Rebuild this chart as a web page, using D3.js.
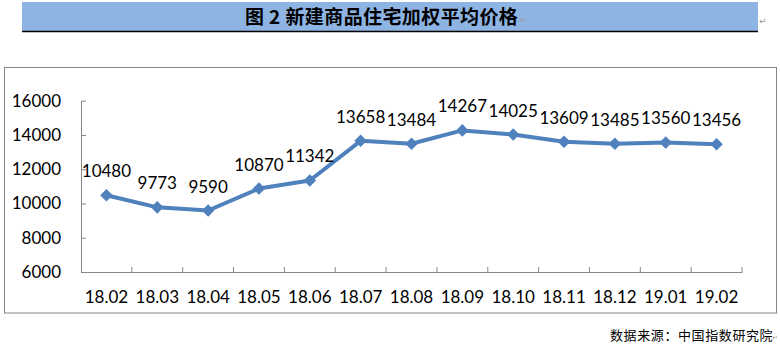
<!DOCTYPE html>
<html>
<head>
<meta charset="utf-8">
<script src="https://cdn.jsdelivr.net/npm/d3@7"></script>
<style>
  body { margin: 0; background: #fff; }
  svg { display: block; }
  .tick-lbl, .val-lbl { font-family: Lato, "Open Sans", sans-serif; font-size: 17px; fill: #000; }
</style>
</head>
<body>
<div id="chart"></div>
<script>
// Data
const months = ["18.02", "18.03", "18.04", "18.05", "18.06", "18.07", "18.08",
                "18.09", "18.10", "18.11", "18.12", "19.01", "19.02"];
const prices = [10480, 9773, 9590, 10870, 11342, 13658, 13484,
                14267, 14025, 13609, 13485, 13560, 13456];
const yTicks = [6000, 8000, 10000, 12000, 14000, 16000];

const titleText = "图 2  新建商品住宅加权平均价格";
const sourceText = "数据来源：中国指数研究院";

const W = 780, H = 349;
const plot = {left: 81, right: 742, top: 100.7, bottom: 272};

const svg = d3.select("#chart")
    .append("svg")
    .attr("width", W)
    .attr("height", H);

// Title banner
svg.append("rect")
    .attr("x", 22).attr("y", 2)
    .attr("width", 736).attr("height", 29)
    .attr("fill", "#8eb4e3");
svg.append("line")
    .attr("x1", 22).attr("x2", 758)
    .attr("y1", 31.5).attr("y2", 31.5)
    .attr("stroke", "#000").attr("stroke-width", 1.5);
svg.append("text")
    .attr("x", 245).attr("y", 24)
    .attr("font-family", "'Noto Sans CJK SC', sans-serif")
    .attr("font-weight", "bold")
    .attr("font-size", 19)
    .attr("letter-spacing", 0.4)
    .text(titleText);
svg.append("text")
    .attr("x", 519).attr("y", 23)
    .attr("font-family", "'DejaVu Sans', sans-serif")
    .attr("font-size", 9).attr("fill", "#999")
    .text("↵");
svg.append("text")
    .attr("x", 759).attr("y", 24)
    .attr("font-family", "'DejaVu Sans', sans-serif")
    .attr("font-size", 9).attr("fill", "#999")
    .text("↵");

// Chart frame
svg.append("rect")
    .attr("x", 4.5).attr("y", 67.5)
    .attr("width", 772).attr("height", 245.5)
    .attr("fill", "none")
    .attr("stroke", "#868686");

// Scales
const x = d3.scaleBand()
    .domain(months)
    .range([plot.left, plot.right]);

const y = d3.scaleLinear()
    .domain([6000, 16000])
    .range([plot.bottom, plot.top]);

// Y axis (ticks point inward)
const yAxis = svg.append("g")
    .attr("transform", `translate(${plot.left},0)`)
    .call(d3.axisLeft(y).tickValues(yTicks).tickFormat(d3.format("d"))
        .tickSize(-5).tickSizeOuter(0).tickPadding(20));
yAxis.select(".domain").attr("stroke", "#868686");
yAxis.selectAll(".tick line").attr("stroke", "#868686");
yAxis.selectAll(".tick text").attr("class", "tick-lbl").attr("font-family", null).attr("font-size", null);

// X axis: labels at band centres, tick marks at band edges
const xAxis = svg.append("g")
    .attr("transform", `translate(0,${plot.bottom})`)
    .call(d3.axisBottom(x).tickSize(0).tickPadding(19));
xAxis.select(".domain").attr("stroke", "#868686");
xAxis.selectAll(".tick text").attr("class", "tick-lbl").attr("font-family", null).attr("font-size", null);

const edges = months.map(m => x(m)).concat([x.range()[1]]).slice(1);
xAxis.selectAll(".edge")
    .data(edges)
    .join("line")
    .attr("class", "edge")
    .attr("x1", d => d).attr("x2", d => d)
    .attr("y1", 0).attr("y2", -5)
    .attr("stroke", "#868686");

// Line
const cx = d => x(d) + x.bandwidth() / 2;
const line = d3.line()
    .x((d, i) => cx(months[i]))
    .y(d => y(d));

svg.append("path")
    .datum(prices)
    .attr("d", line)
    .attr("fill", "none")
    .attr("stroke", "#4f81bd")
    .attr("stroke-width", 4)
    .attr("stroke-linejoin", "round");

// Diamond markers
const diamond = d3.symbol().type(d3.symbolDiamond2).size(100);
svg.selectAll(".marker")
    .data(prices)
    .join("path")
    .attr("class", "marker")
    .attr("transform", (d, i) => `translate(${cx(months[i])},${y(d)})`)
    .attr("d", diamond)
    .attr("fill", "#4f81bd");

// Value labels
svg.selectAll(".val-lbl")
    .data(prices)
    .join("text")
    .attr("class", "val-lbl")
    .attr("x", (d, i) => cx(months[i]))
    .attr("y", d => y(d) - 18)
    .attr("text-anchor", "middle")
    .text(d => d);

// Source note
svg.append("text")
    .attr("x", 610).attr("y", 340)
    .attr("font-family", "'Noto Sans CJK SC', sans-serif")
    .attr("font-size", 13)
    .attr("letter-spacing", 0.6)
    .text(sourceText);
svg.append("text")
    .attr("x", 772).attr("y", 340)
    .attr("font-family", "'DejaVu Sans', sans-serif")
    .attr("font-size", 7).attr("fill", "#999")
    .text("↵");
</script>
</body>
</html>
